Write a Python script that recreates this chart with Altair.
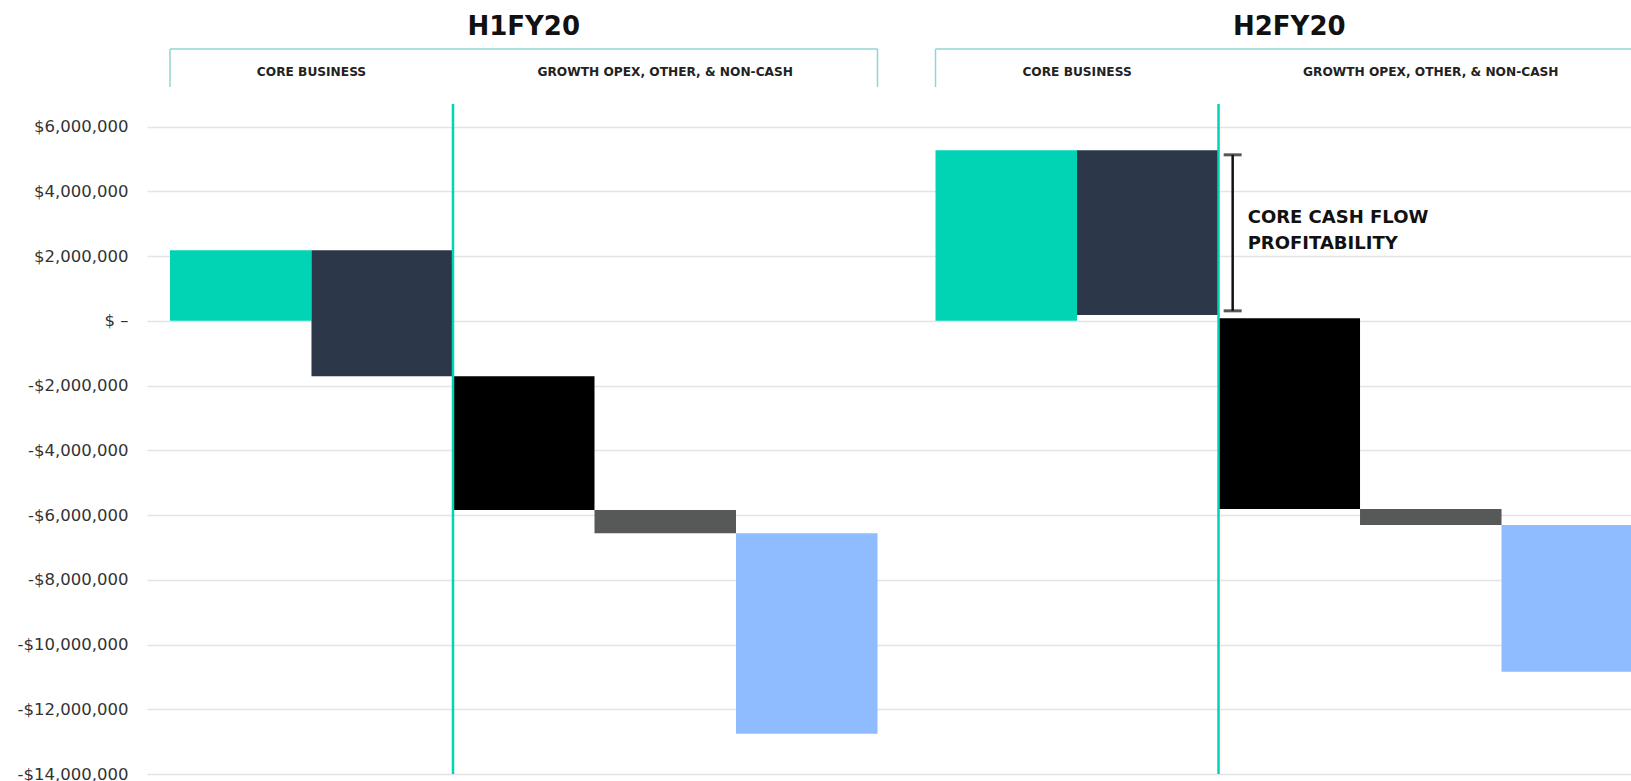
import altair as alt
import pandas as pd

# ---------------- data ----------------
periods = ["H1FY20", "H2FY20"]
segments = ["CORE BUSINESS", "GROWTH OPEX, OTHER, & NON-CASH"]
bar_kinds = ["Core inflow", "Core outflow", "Growth opex", "Other", "Non-cash"]
bar_segment = [0, 0, 1, 1, 1]
bar_colors = ["#00d4b5", "#2c3749", "#000000", "#575958", "#8ebcfe"]

h1_start = [0, 2180000, -1710000, -5840000, -6560000]
h1_end = [2180000, -1710000, -5840000, -6560000, -12760000]
h2_start = [0, 5270000, 80000, -5810000, -6310000]
h2_end = [5270000, 180000, -5810000, -6310000, -10840000]

y_ticks = [-14000000, -12000000, -10000000, -8000000, -6000000, -4000000,
           -2000000, 0, 2000000, 4000000, 6000000]
y_domain = [-14000000, 6700000]

annotation_period = "H2FY20"
annotation_lines = "CORE CASH FLOW\nPROFITABILITY"
annotation_top = 5130000
annotation_bottom = 310000

# ---------------- layout helpers (slot units) ----------------
GAP = 0.41
FONT = "DejaVu Sans"
W, H = 1484, 670

rows = []
for g, (p, starts, ends) in enumerate([(periods[0], h1_start, h1_end),
                                       (periods[1], h2_start, h2_end)]):
    base = g * (len(bar_kinds) + GAP)
    for i, k in enumerate(bar_kinds):
        rows.append(dict(period=p, kind=k, x0=base + i, x1=base + i + 1,
                         start=starts[i], end=ends[i], seg=bar_segment[i]))
bars = pd.DataFrame(rows)

grp = bars.groupby("period").agg(gx0=("x0", "min"), gx1=("x1", "max")).reset_index()
grp["center"] = (grp.gx0 + grp.gx1) / 2

segdf = bars.groupby(["period", "seg"]).agg(sx0=("x0", "min"), sx1=("x1", "max")).reset_index()
segdf["center"] = (segdf.sx0 + segdf.sx1) / 2
segdf["label"] = [segments[s] for s in segdf.seg]

dividers = segdf[segdf.seg == 1][["period", "sx0"]].rename(columns={"sx0": "x"})

legs = pd.DataFrame({"x": list(grp.gx0) + list(grp.gx1)})

div_x = float(dividers[dividers.period == annotation_period].x.iloc[0])
ann = pd.DataFrame({"x": [div_x + 0.1], "top": [annotation_top],
                    "bottom": [annotation_bottom],
                    "mid": [(annotation_top + annotation_bottom) / 2],
                    "text": [annotation_lines]})

xscale = alt.Scale(domain=[-0.1625, 10.325], nice=False, zero=False)
yscale = alt.Scale(domain=y_domain, nice=False, zero=False)

label_expr = ("datum.value == 0 ? '$ \u2013' : (datum.value < 0 ? '-$' : '$') + "
              "format(abs(datum.value), ',')")

bar_layer = alt.Chart(bars).mark_rect(clip=True).encode(
    x=alt.X("x0:Q", scale=xscale, axis=None),
    x2="x1:Q",
    y=alt.Y("start:Q", scale=yscale, title=None,
            axis=alt.Axis(values=y_ticks, grid=True, gridColor="#e4e4e4", gridWidth=1.5,
                          domain=False, ticks=False, tickSize=0, labelPadding=19,
                          labelExpr=label_expr, labelFont=FONT, labelFontSize=16.5,
                          labelColor="#333333")),
    y2="end:Q",
    color=alt.Color("kind:N", scale=alt.Scale(domain=bar_kinds, range=bar_colors), legend=None),
)

divider_layer = alt.Chart(dividers).mark_rule(color="#00d4b5", strokeWidth=2.5).encode(
    x=alt.X("x:Q", scale=xscale), y=alt.value(0), y2=alt.value(H))

title_layer = alt.Chart(grp).mark_text(font=FONT, fontSize=26, fontWeight="bold",
                                       color="#111111", baseline="middle").encode(
    x=alt.X("center:Q", scale=xscale), y=alt.value(-77), text="period:N")

bracket_top = alt.Chart(grp).mark_rule(color="#93d4d4", strokeWidth=1.5).encode(
    x=alt.X("gx0:Q", scale=xscale), x2="gx1:Q", y=alt.value(-55))

bracket_legs = alt.Chart(legs).mark_rule(color="#93d4d4", strokeWidth=1.5).encode(
    x=alt.X("x:Q", scale=xscale), y=alt.value(-55), y2=alt.value(-17))

seg_layer = alt.Chart(segdf).mark_text(font=FONT, fontSize=12.2, fontWeight="bold",
                                       color="#222222", baseline="middle").encode(
    x=alt.X("center:Q", scale=xscale), y=alt.value(-32), text="label:N")

ann_rule = alt.Chart(ann).mark_rule(color="#111111", strokeWidth=2.5).encode(
    x=alt.X("x:Q", scale=xscale), y=alt.Y("top:Q", scale=yscale), y2="bottom:Q")

ann_caps = alt.Chart(ann).transform_fold(["top", "bottom"], as_=["k", "v"]).mark_tick(
    color="#111111", orient="horizontal", size=18, thickness=3).encode(
    x=alt.X("x:Q", scale=xscale), y=alt.Y("v:Q", scale=yscale))

ann_text = alt.Chart(ann).mark_text(font=FONT, fontSize=18, fontWeight="bold", color="#111111",
                                    align="left", baseline="middle", lineBreak="\n",
                                    lineHeight=26, dx=15, dy=-15).encode(
    x=alt.X("x:Q", scale=xscale), y=alt.Y("mid:Q", scale=yscale), text="text:N")

chart = alt.layer(bar_layer, divider_layer, title_layer, bracket_top, bracket_legs,
                  seg_layer, ann_rule, ann_caps, ann_text).properties(
    width=W, height=H,
    autosize=alt.AutoSizeParams(type="none"),
    padding={"left": 147, "top": 104, "right": 0, "bottom": 7},
    background="white",
).configure_view(stroke=None)

chart.save("out.html", embed_options={"renderer": "svg", "actions": False})
